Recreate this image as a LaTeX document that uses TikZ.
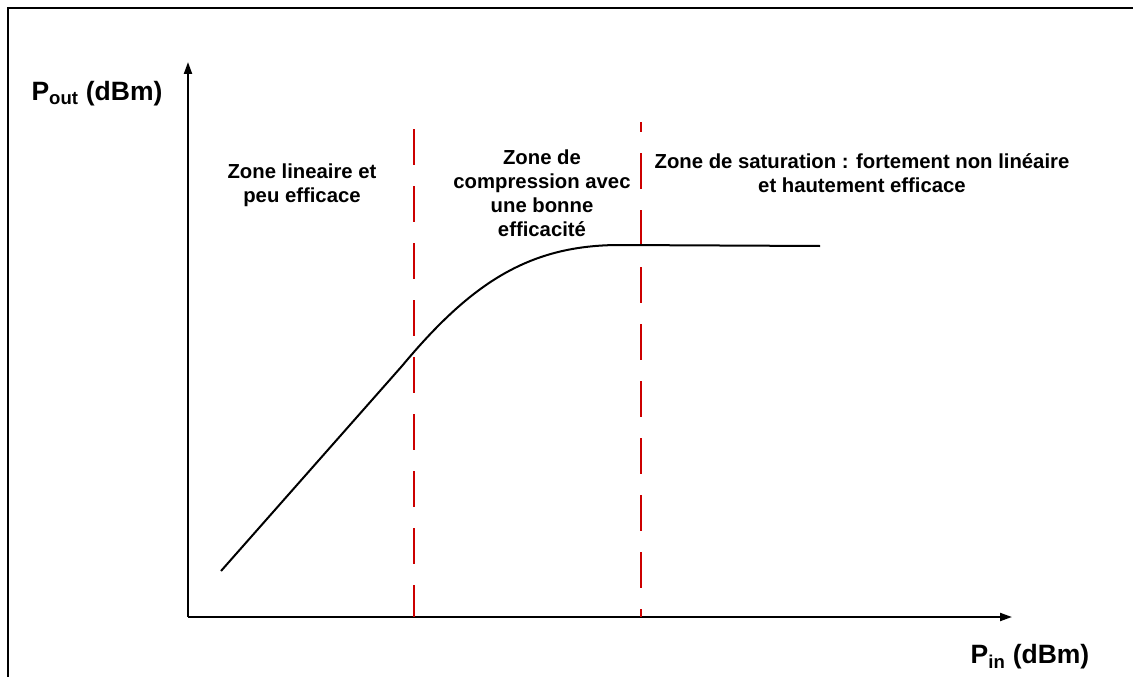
\documentclass[tikz,border=0pt]{standalone}
\usepackage{fontspec}
\setmainfont{Liberation Sans}
\usetikzlibrary{arrows.meta}
\tikzset{
  zone/.style={align=center,font=\fontsize{20.3}{24}\selectfont\bfseries},
  axislabel/.style={font=\fontsize{26.5}{30}\selectfont\bfseries},
  limit/.style={draw=red!80!black,line width=2pt,dash pattern=on 36pt off 21pt},
  axis/.style={line width=2pt,-{Triangle[length=12pt,width=8pt]}}
}
\begin{document}
\begin{tikzpicture}[x=1pt,y=-1pt]
      \useasboundingbox (0,0) rectangle (1133,677);
      \draw[line width=2.5pt] (8,677) -- (8,8) -- (1133,8);
      \coordinate (O) at (188,617);
      \coordinate (ytip) at (188,62);
      \coordinate (xtip) at (1012,617);
      \coordinate (l1top) at (414,129);
      \coordinate (l1bot) at (414,617);
      \coordinate (l2top) at (641,122);
      \coordinate (l2bot) at (641,617);
      \draw[axis] (O) -- (ytip);
      \draw[axis] (O) -- (xtip);
      \draw[limit] (l1top) -- (l1bot);
      \draw[limit,dash phase=26pt] (l2top) -- (l2bot);
      \draw[line width=2pt]
        (221,571) -- (402,366)
        .. controls (472,282) and (530,245) .. (620,245)
        -- (820,246);
      \node[axislabel] (pout) at (97,94) {P\textsubscript{out} (dBm)};
      \node[axislabel] (pin) at (1030,657) {P\textsubscript{in} (dBm)};
      \node[zone] (lin) at (302,185) {Zone lineaire et\\peu efficace};
      \node[zone] (comp) at (542,193) {Zone de\\compression avec\\une bonne\\efficacité};
      \node[zone] (sat) at (862,173) {Zone de saturation : fortement non linéaire\\et hautement efficace};
    \end{tikzpicture}
\end{document}
